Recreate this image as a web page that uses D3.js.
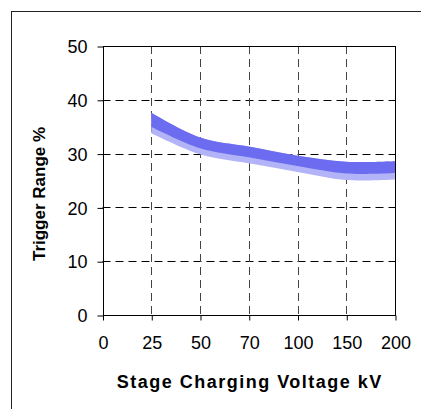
<!DOCTYPE html>
<html>
<head>
<meta charset="utf-8">
<script src="https://cdn.jsdelivr.net/npm/d3@7"></script>
<style>
  body { margin: 0; background: #fff; }
  svg { display: block; }
</style>
</head>
<body>
<svg id="chart" width="421" height="409"></svg>
<script>
// categories on the x axis (equally spaced)
const voltages = ['0', '25', '50', '70', '100', '150', '200'];
const yTicks = [0, 10, 20, 30, 40, 50];

// band of measured points: upper edge, dense core lower edge, lower edge
const bandX     = ['25', '50', '70', '100', '150', '200'];
const bandUpper = [37.6, 33.0, 31.3, 29.6, 28.5, 28.6];
const bandCore  = [35.0, 31.0, 29.3, 27.7, 26.3, 26.4];
const bandLower = [33.8, 29.9, 28.2, 26.6, 25.1, 25.2];

const font = '"Liberation Sans", Arial, sans-serif';
const svg = d3.select('#chart');
const margin = { top: 46, right: 26, bottom: 94, left: 102.5 };
const width  = +svg.attr('width');
const height = +svg.attr('height');

// outer frame (runs off the right/bottom edge)
svg.append('rect')
  .attr('x', 11.5).attr('y', 11.5)
  .attr('width', 430).attr('height', 420)
  .attr('fill', 'none')
  .attr('stroke', '#222');

const x = d3.scalePoint()
  .domain(voltages)
  .range([margin.left, width - margin.right]);

const y = d3.scaleLinear()
  .domain([0, 50])
  .range([height - margin.bottom, margin.top]);

const g = svg.append('g');

// grid lines
g.selectAll('.hgrid').data(yTicks.filter(d => d > 0 && d < 50))
  .join('line')
    .attr('class', 'hgrid')
    .attr('x1', margin.left).attr('x2', width - margin.right)
    .attr('y1', d => Math.round(y(d)) + 0.5).attr('y2', d => Math.round(y(d)) + 0.5)
    .attr('stroke', '#000')
    .attr('stroke-dasharray', '8,5');

g.selectAll('.vgrid').data(voltages.slice(1, -1))
  .join('line')
    .attr('class', 'vgrid')
    .attr('x1', d => Math.round(x(d)) + 0.5).attr('x2', d => Math.round(x(d)) + 0.5)
    .attr('y1', margin.top).attr('y2', height - margin.bottom)
    .attr('stroke', '#444')
    .attr('stroke-dasharray', '8,5');

// band
const pts = bandX.map((v, i) => ({ x: v, hi: bandUpper[i], core: bandCore[i], lo: bandLower[i] }));
const curve = d3.curveCatmullRom;

g.append('path')
  .datum(pts)
  .attr('fill', '#b3b3f7')
  .attr('d', d3.area().curve(curve)
    .x(d => x(d.x)).y0(d => y(d.lo)).y1(d => y(d.hi)));

g.append('path')
  .datum(pts)
  .attr('fill', '#6c6cf0')
  .attr('d', d3.area().curve(curve)
    .x(d => x(d.x)).y0(d => y(d.core)).y1(d => y(d.hi)));

// plot frame
g.append('rect')
  .attr('x', Math.round(margin.left) + 0.5)
  .attr('y', margin.top + 0.5)
  .attr('width', Math.round(width - margin.right) - Math.round(margin.left))
  .attr('height', height - margin.bottom - margin.top)
  .attr('fill', 'none')
  .attr('stroke', '#000');

// axes
const xAxis = g.append('g')
  .attr('transform', `translate(0.5,${height - margin.bottom + 0.5})`)
  .call(d3.axisBottom(x).tickSize(5).tickPadding(16));
const yAxis = g.append('g')
  .attr('transform', `translate(${Math.round(margin.left) + 0.5},0.5)`)
  .call(d3.axisLeft(y).tickValues(yTicks).tickSize(6).tickPadding(10));

[xAxis, yAxis].forEach(a => {
  a.attr('font-family', font).attr('font-size', 18);
  a.select('.domain').remove();
  a.selectAll('.tick line').attr('stroke', '#000');
  a.selectAll('.tick text').attr('fill', '#000');
});
yAxis.selectAll('.tick text').attr('dy', '0.34em');

// axis titles
svg.append('text')
  .attr('x', (margin.left + width - margin.right) / 2 + 1)
  .attr('y', 388)
  .attr('text-anchor', 'middle')
  .attr('font-family', font)
  .attr('font-size', 18)
  .attr('font-weight', 'bold')
  .attr('letter-spacing', 1.5)
  .text('Stage Charging Voltage kV');

svg.append('text')
  .attr('transform', 'translate(45,194) rotate(-90)')
  .attr('text-anchor', 'middle')
  .attr('font-family', font)
  .attr('font-size', 17)
  .attr('font-weight', 'bold')
  .text('Trigger Range %');
</script>
</body>
</html>
